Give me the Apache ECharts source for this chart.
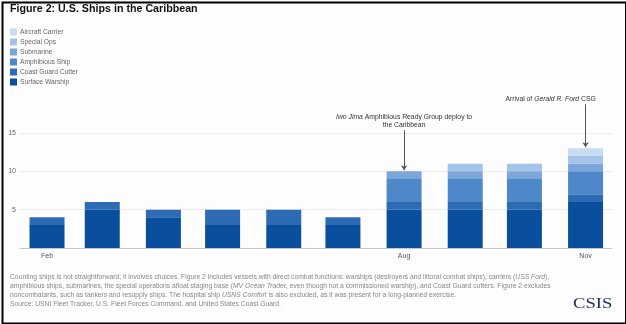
<!DOCTYPE html>
<html>
<head>
<meta charset="utf-8">
<script src="https://cdn.jsdelivr.net/npm/echarts@6/dist/echarts.min.js"></script>
<style>
html,body{margin:0;padding:0;background:#fff;}
#chart{width:626px;height:324px;}
</style>
</head>
<body>
<div id="chart"></div>
<script>
// ---- data ----
var months = ['2025-02-01','2025-03-01','2025-04-01','2025-05-01','2025-06-01','2025-07-01','2025-08-01','2025-09-01','2025-10-01','2025-11-01'];
var surfaceWarship   = [3,5,4,3,3,3,5,5,5,6];
var coastGuardCutter = [1,1,1,2,2,1,1,1,1,1];
var amphibiousShip   = [0,0,0,0,0,0,3,3,3,3];
var submarine        = [0,0,0,0,0,0,1,1,1,1];
var specialOps       = [0,0,0,0,0,0,0,1,1,1];
var aircraftCarrier  = [0,0,0,0,0,0,0,0,0,1];
var tickDates  = ['2025-02-01','2025-08-01','2025-11-01'];
var tickLabels = ['Feb','Aug','Nov'];
var yLabelValues = [5,10,15];
var yGridValues  = [0,5,10,15];

var seriesDefs = [
  {name:'Surface Warship', data:surfaceWarship, color:'#0a4f9e'},
  {name:'Coast Guard Cutter', data:coastGuardCutter, color:'#2d6bb5'},
  {name:'Amphibious Ship', data:amphibiousShip, color:'#4f88c9'},
  {name:'Submarine', data:submarine, color:'#7aa6da'},
  {name:'Special Ops', data:specialOps, color:'#a4c3e9'},
  {name:'Aircraft Carrier', data:aircraftCarrier, color:'#c8dcf3'}
];

var FONT = 'Liberation Sans';
function t(d){ return new Date(+d.slice(0,4), +d.slice(5,7)-1, +d.slice(8,10)).getTime(); }
var DAY = 86400000;
var tickTimes = tickDates.map(t);

// layout
var GRID_LEFT = 20, GRID_RIGHT = 14, W = 626, BAR_W = 35;
var axisLen = W - GRID_LEFT - GRID_RIGHT;
// desired visible extent; ECharts pads a time axis for bar overflow, so pre-shrink it
var wantMin = t('2025-02-01') - 13.7*DAY;
var wantMax = t('2025-11-01') + 13.4*DAY;
var wantRange = wantMax - wantMin;
var oldRange = wantRange * (1 - BAR_W/axisLen);
var center = (wantMin + wantMax)/2;
var xMin = center - oldRange/2;
var xMax = center + oldRange/2;

var chart = echarts.init(document.getElementById('chart'), null, {renderer:'canvas'});

var series = seriesDefs.map(function(s, idx){
  var o = {
    name: s.name,
    type: 'bar',
    stack: 'ships',
    barWidth: BAR_W,
    itemStyle: {color: s.color},
    emphasis: {disabled: true},
    data: months.map(function(m,i){return [t(m), s.data[i]];})
  };
  if (idx === seriesDefs.length - 1) {
    o.markLine = {
      silent: true,
      symbol: ['none','arrow'],
      symbolSize: [5,5],
      lineStyle: {color:'#555', width:1, type:'solid'},
      label: {show:false},
      data: [
        [{coord:[t('2025-08-01'), 15.35]}, {coord:[t('2025-08-01'), 10.15]}],
        [{coord:[t('2025-11-01'), 18.75]}, {coord:[t('2025-11-01'), 13.15]}]
      ]
    };
    o.markPoint = {
      silent: true,
      symbol: 'rect',
      symbolSize: 0,
      label: {
        show: true,
        position: 'inside',
        fontFamily: FONT,
        fontSize: 6.8,
        color: '#333',
        lineHeight: 7.5,
        align: 'center',
        rich: {
          a: {fontFamily: FONT, fontSize: 6.8, color:'#333', lineHeight: 7.5},
          i: {fontFamily: FONT, fontSize: 6.8, color:'#333', fontStyle:'italic', lineHeight: 7.5}
        }
      },
      data: [
        {coord:[t('2025-08-01'), 16.55], label:{formatter:'{i|Iwo Jima}{a| Amphibious Ready Group deploy to}\n{a|the Caribbean}'}},
        {coord:[t('2025-11-01'), 19.4], label:{offset:[-35,0], formatter:'{a|Arrival of }{i|Gerald R. Ford}{a| CSG}'}}
      ]
    };
  }
  return o;
});

var legendData = seriesDefs.map(function(s){return s.name;}).reverse();

var FS = 6.75;
var footRich = {
  a: {fontFamily: FONT, fontSize: FS, color:'#888', lineHeight: 8.7},
  i: {fontFamily: FONT, fontSize: FS, color:'#888', fontStyle:'italic', lineHeight: 8.7},
  l: {fontFamily: FONT, fontSize: FS, color:'#3b73b9', lineHeight: 8.7}
};
var footText =
  '{a|Counting ships is not straightforward; it involves choices. Figure 2 includes vessels with direct combat functions: warships (destroyers and littoral combat ships), carriers (}{i|USS Ford}{a|),}\n' +
  '{a|amphibious ships, submarines, the special operations afloat staging base (}{i|MV Ocean Trader}{a|, even though not a commissioned warship), and Coast Guard cutters. Figure 2 excludes}\n' +
  '{a|noncombatants, such as tankers and resupply ships. The hospital ship }{i|USNS Comfort}{a| is also excluded, as it was present for a long-planned }{l|exercise}{a|.}';

var option = {
  backgroundColor: '#fdfdfd',
  animation: false,
  title: {
    text: 'Figure 2: U.S. Ships in the Caribbean',
    left: 10, top: 4, padding: 0,
    textStyle: {fontFamily: FONT, fontWeight: 'bold', fontSize: 10.7, color:'#111'}
  },
  legend: {
    orient: 'vertical',
    left: 10, top: 28.5, padding: 0,
    itemWidth: 7, itemHeight: 7, itemGap: 3,
    icon: 'rect',
    selectedMode: false,
    data: legendData,
    textStyle: {fontFamily: FONT, fontSize: 6.7, color:'#666', padding:[0,0,0,-2]}
  },
  // y max 20 so the annotations (above 15) stay inside the coordinate system; 15 sits at y=134
  grid: {left: GRID_LEFT, right: GRID_RIGHT, top: 94.7, bottom: 76, containLabel: false},
  xAxis: {
    type: 'time',
    min: xMin, max: xMax,
    minInterval: 28*DAY, maxInterval: 31*DAY,
    axisLine: {show: true, lineStyle: {color:'#c8c8c8', width:1}},
    axisTick: {show: false},
    splitLine: {show: false},
    axisLabel: {
      margin: 5,
      hideOverlap: false,
      fontFamily: FONT, fontSize: 7, color:'#555',
      formatter: function(v){
        var i = tickTimes.indexOf(+v);
        return i >= 0 ? tickLabels[i] : '';
      }
    }
  },
  yAxis: {
    type: 'value',
    min: 0, max: 20, interval: 5,
    axisLine: {show:false},
    axisTick: {show:false, customValues: yGridValues},
    splitLine: {lineStyle: {color:'#ececec', width:1}},
    axisLabel: {
      customValues: yLabelValues,
      margin: 4,
      fontFamily: FONT, fontSize: 7, color:'#666'
    }
  },
  graphic: [
    {
      type: 'text', left: 10, top: 274,
      style: {text: footText, rich: footRich, fontFamily: FONT, fontSize: FS, fill:'#888'}
    },
    {
      type: 'text', left: 10, top: 300.5,
      style: {text: 'Source: USNI Fleet Tracker, U.S. Fleet Forces Command, and United States Coast Guard.', fontFamily: FONT, fontSize: FS, fill:'#888'}
    },
    {
      type: 'text', x: 573, y: 296, scaleX: 1.2,
      style: {text: 'CSIS', fontFamily: 'Liberation Serif', fontSize: 15.5, fill:'#1c2b5a'}
    },
    {
      type: 'rect', left: 0, top: 0, silent: true,
      shape: {x:1, y:1, width:623.5, height:321},
      style: {fill: 'none', stroke:'#000', lineWidth: 2}
    }
  ],
  series: series
};
chart.setOption(option);
</script>
</body>
</html>
